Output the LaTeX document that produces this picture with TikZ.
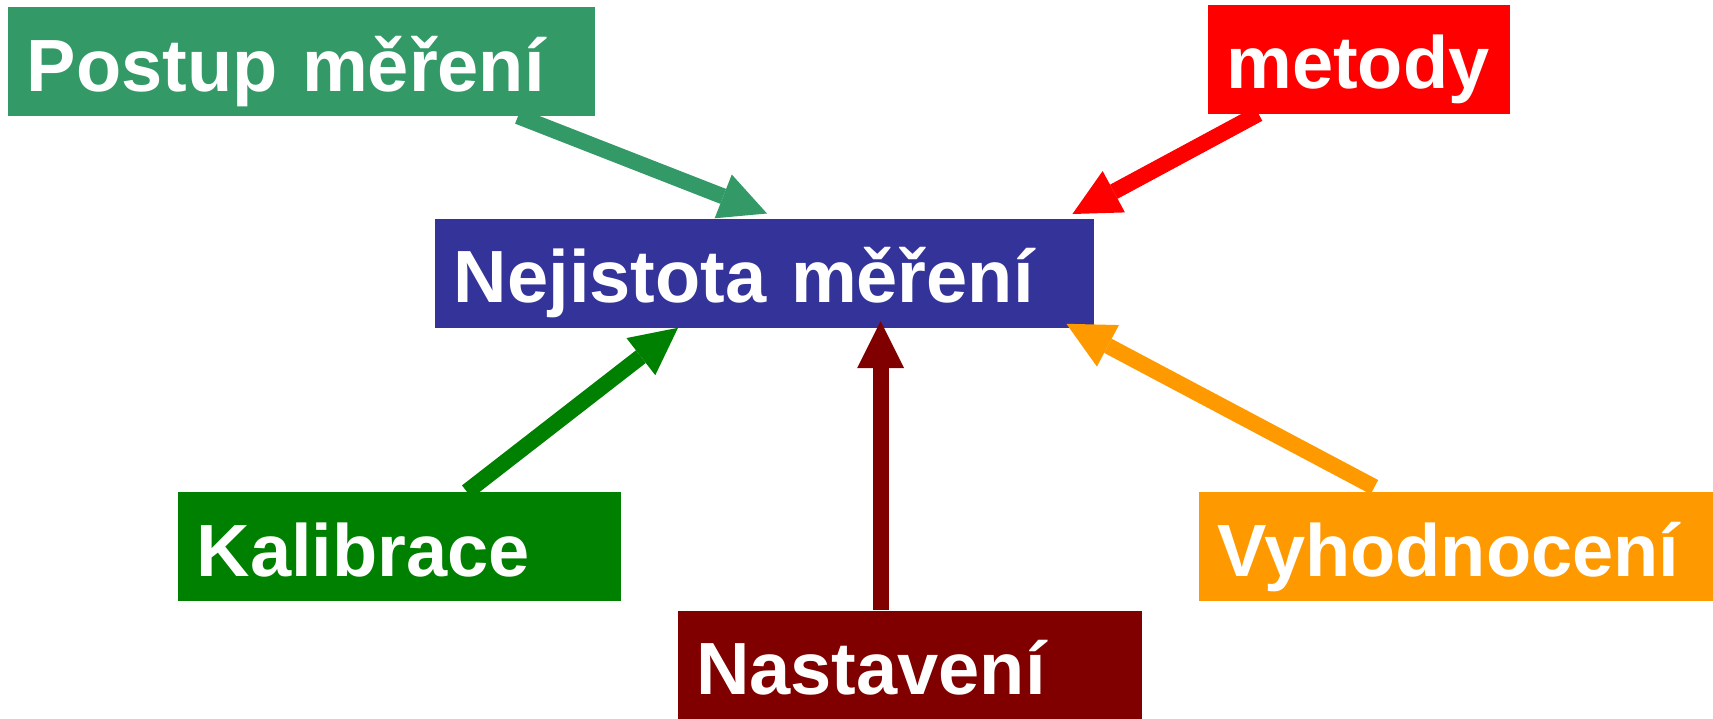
\documentclass[tikz,border=0pt]{standalone}
\usepackage{fontspec}
\setmainfont{Liberation Sans}
\usetikzlibrary{arrows.meta}
\definecolor{cteal}{HTML}{339966}
\definecolor{cred}{HTML}{FF0000}
\definecolor{cblue}{HTML}{333399}
\definecolor{cgreen}{HTML}{008000}
\definecolor{cmaroon}{HTML}{800000}
\definecolor{corange}{HTML}{FF9900}
\begin{document}
\begin{tikzpicture}[x=1pt,y=-1pt,
  box/.style={anchor=north west, inner xsep=18.5pt, inner ysep=0pt,
    text height=84.3pt, text depth=24.8pt, align=left,
    font=\fontsize{74}{80}\selectfont\bfseries, text=white},
  arr/.style={line width=16pt, -{Triangle[length=47pt,width=47pt,line width=0pt]}}]
\useasboundingbox (0,0) rectangle (1713,718);
\node[box, fill=cteal, text width=550pt] (postup) at (8,6.7) {Postup měření};
\node[box, fill=cred, text width=265.3pt] (metody) at (1207.7,4.3) {metody};
\node[box, fill=cblue, text width=621.5pt] (nej) at (435.2,218.3) {Nejistota měření};
\node[box, fill=cgreen, text width=405.8pt] (kal) at (177.9,491.7) {Kalibrace};
\node[box, fill=cmaroon, text width=427pt] (nas) at (677.4,610.3) {Nastavení};
\node[box, fill=corange, text width=477.2pt] (vyh) at (1198.8,491.7) {Vyhodnocení};
\draw[arr, cteal] ([xshift=510pt]postup.south west) -- ([xshift=331.8pt,yshift=4.8pt]nej.north west);
\draw[arr, cred] ([xshift=50.8pt]metody.south west) -- ([xshift=-21.7pt,yshift=4.3pt]nej.north east);
\draw[arr, cgreen] ([xshift=289pt]kal.north west) -- ([xshift=242.8pt]nej.south west);
\draw[arr, cmaroon] ([xshift=203.2pt]nas.north west) -- ([xshift=445.4pt,yshift=6.6pt]nej.south west);
\draw[arr, corange] ([xshift=175.6pt,yshift=4.6pt]vyh.north west) -- ([xshift=-27.7pt,yshift=4pt]nej.south east);
\end{tikzpicture}
\end{document}
